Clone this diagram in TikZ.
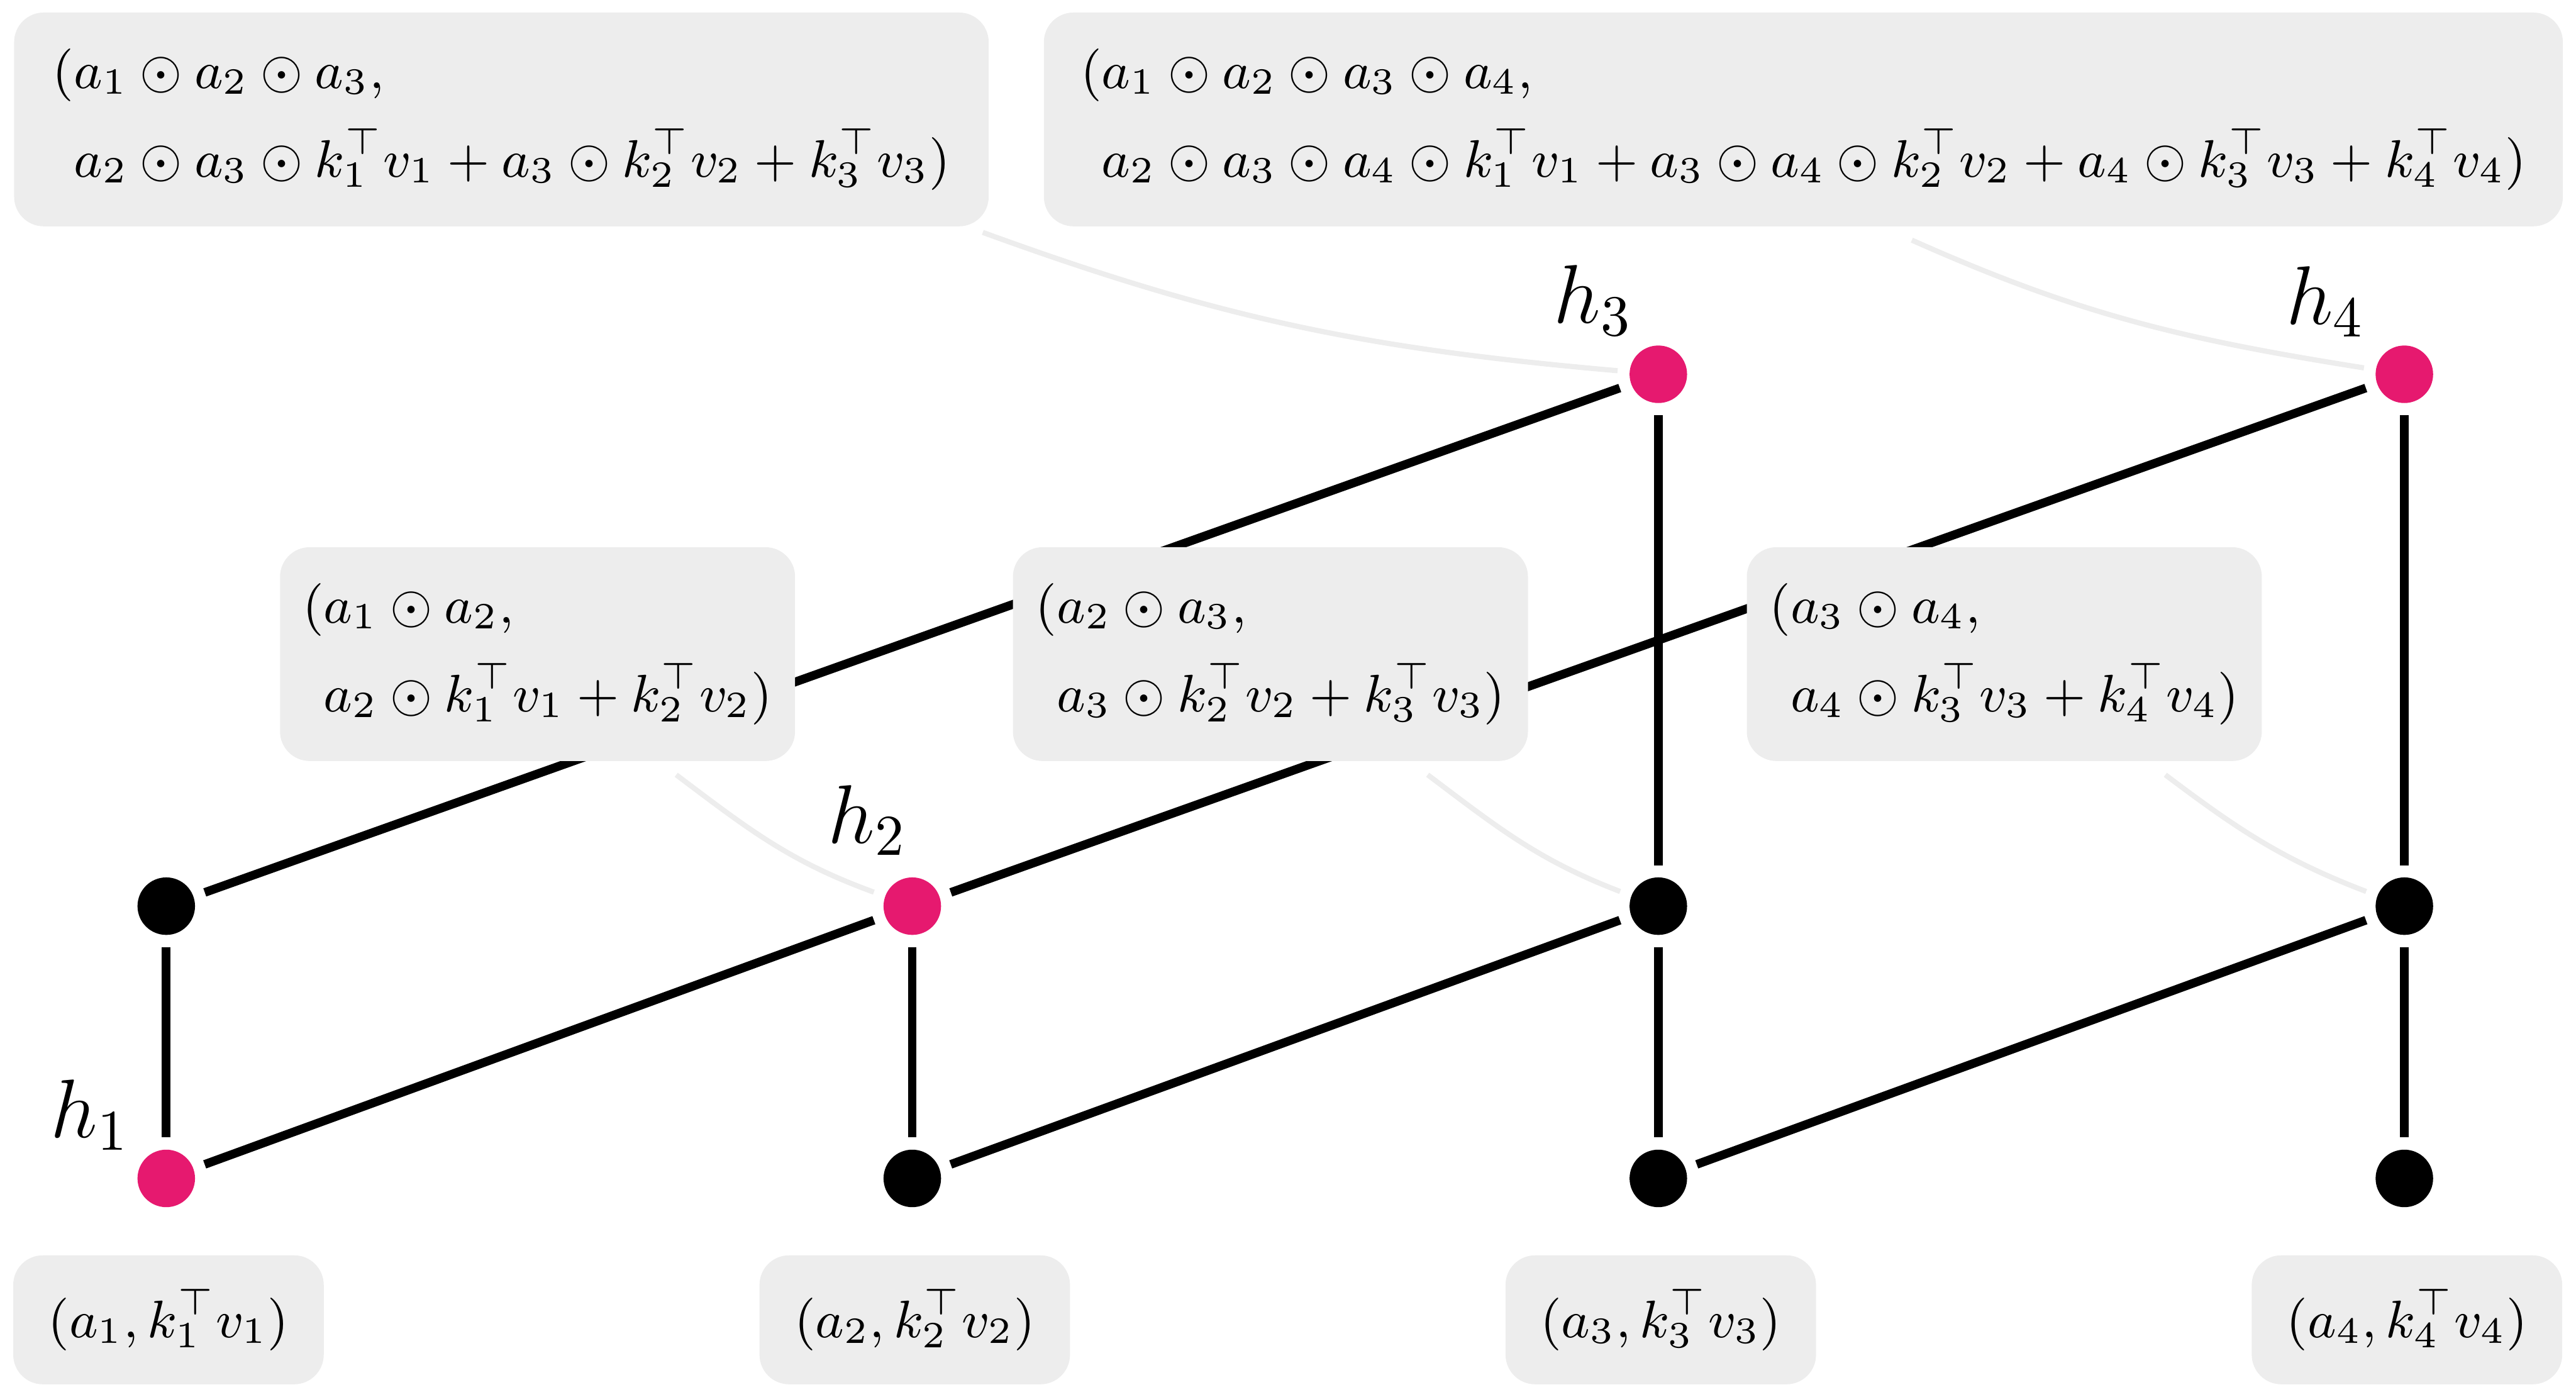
\RequirePackage{fix-cm}
\documentclass[tikz,border=0pt]{standalone}
\usepackage{amsmath}
\usetikzlibrary{positioning,calc}
\definecolor{dotpink}{HTML}{E6196F}
\definecolor{boxgray}{HTML}{EDEDED}

\begin{document}
\begin{tikzpicture}[
  dot/.style={circle,fill=black,inner sep=0pt,minimum size=0.35cm,outer sep=0.074cm},
  hdot/.style={dot,fill=dotpink},
  edge/.style={line width=1.5pt},
  link/.style={line width=0.9pt,draw=boxgray},
  state/.style={fill=boxgray,rounded corners=0.18cm,inner sep=0pt,
    minimum height=1.301cm,align=left,font=\fontsize{9.15}{15.4}\selectfont},
  leaf/.style={fill=boxgray,rounded corners=0.18cm,inner sep=0pt,minimum width=1.89cm,
    minimum height=0.785cm,font=\fontsize{9.15}{15.4}\selectfont},
  lbl/.style={inner sep=0pt,font=\Large,anchor=south east}
]
\useasboundingbox (0,0) rectangle (15.68,8.502);

% Rows
\pgfmathsetmacro{\rowa}{1.33};
\pgfmathsetmacro{\rowb}{2.987};
\pgfmathsetmacro{\rowc}{6.224};

% Dots
\node[hdot] (h1) at (1.012,\rowa) {};
\node[dot] (b2) at (5.553,\rowa) {};
\node[dot] (b3) at (10.094,\rowa) {};
\node[dot] (b4) at (14.635,\rowa) {};
\node[dot] (m1) at (1.012,\rowb) {};
\node[hdot] (h2) at (5.553,\rowb) {};
\node[dot] (m3) at (10.094,\rowb) {};
\node[dot] (m4) at (14.635,\rowb) {};
\node[hdot] (h3) at (10.094,\rowc) {};
\node[hdot] (h4) at (14.635,\rowc) {};

% Vertical edges
\draw [edge] (m1) -- (h1);
\draw [edge] (h2) -- (b2);
\draw [edge] (h3) -- (m3);
\draw [edge] (m3) -- (b3);
\draw [edge] (h4) -- (m4);
\draw [edge] (m4) -- (b4);

% Diagonal edges
\draw [edge] (h1) -- (h2);
\draw [edge] (b2) -- (m3);
\draw [edge] (b3) -- (m4);
\draw [edge] (m1) -- (h3);
\draw [edge] (h2) -- (h4);

% Leaf states
\node[leaf] (s1) at (1.0255,0.4695) {$(a_1,k_1^\top v_1)$};
\node[leaf] (s2) at (5.568,0.4695) {$(a_2,k_2^\top v_2)$};
\node[leaf] (s3) at (10.109,0.4695) {$(a_3,k_3^\top v_3)$};
\node[leaf] (s4) at (14.651,0.4695) {$(a_4,k_4^\top v_4)$};

% Pair states
\node[state,minimum width=3.135cm] (s12) at (3.272,4.521)
  {$(a_1\odot a_2,$\\$\phantom{(}a_2\odot k_1^\top v_1+k_2^\top v_2)$};
\node[state,minimum width=3.135cm] (s23) at (7.733,4.521)
  {$(a_2\odot a_3,$\\$\phantom{(}a_3\odot k_2^\top v_2+k_3^\top v_3)$};
\node[state,minimum width=3.135cm] (s34) at (12.2,4.521)
  {$(a_3\odot a_4,$\\$\phantom{(}a_4\odot k_3^\top v_3+k_4^\top v_4)$};

% Top states
\node[state,minimum width=5.932cm] (s123) at (3.052,7.775)
  {$(a_1\odot a_2\odot a_3,$\\$\phantom{(}a_2\odot a_3\odot k_1^\top v_1+a_3\odot k_2^\top v_2+k_3^\top v_3)$\hspace{0.1cm}};
\node[state,minimum width=9.246cm] (s1234) at (10.977,7.775)
  {$(a_1\odot a_2\odot a_3\odot a_4,$\\$\phantom{(}a_2\odot a_3\odot a_4\odot k_1^\top v_1+a_3\odot a_4\odot k_2^\top v_2+a_4\odot k_3^\top v_3+k_4^\top v_4)$};

% Links from states to dots
\draw [link] ([shift={(-0.043,-0.03)}]s123.south east) to[out=-20,in=175] (h3);
\draw [link] ([shift={(0.66,-0.077)}]s1234.south) to[out=-24,in=171] (h4);
\draw [link] ([shift={(0.844,-0.077)}]s12.south) to[out=-37,in=160] (h2);
\draw [link] ([shift={(0.957,-0.077)}]s23.south) to[out=-37,in=159] (m3);
\draw [link] ([shift={(0.98,-0.077)}]s34.south) to[out=-37,in=159] (m4);

% Labels
\node[lbl] (l1) at ([shift={(-0.217,0.166)}]h1.center) {$h_1$};
\node[lbl] (l2) at ([shift={(-0.027,0.302)}]h2.center) {$h_2$};
\node[lbl] (l3) at ([shift={(-0.151,0.23)}]h3.center) {$h_3$};
\node[lbl] (l4) at ([shift={(-0.234,0.222)}]h4.center) {$h_4$};
\end{tikzpicture}
\end{document}
